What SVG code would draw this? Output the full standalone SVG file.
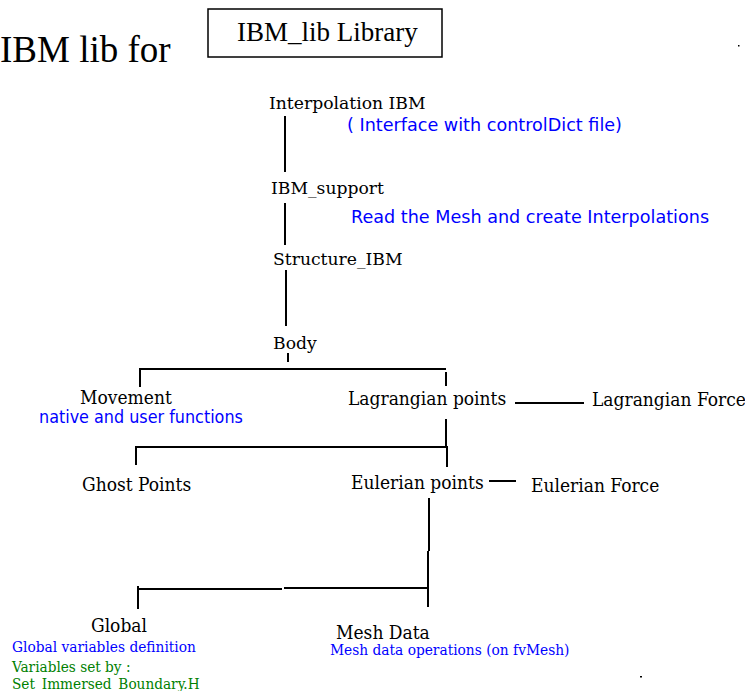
<svg xmlns="http://www.w3.org/2000/svg" width="745" height="691" viewBox="0 0 745 691">
<style>
.s{font-family:"DejaVu Serif",serif;fill:#000;font-size:17.2px}
.sc{font-family:"DejaVu Serif Condensed","DejaVu Serif",serif;fill:#000;font-size:19px}
.bs{font-family:"DejaVu Sans",sans-serif;fill:#0000ff;font-size:17.6px}
.bc{font-family:"DejaVu Sans Condensed","DejaVu Sans",sans-serif;fill:#0000ff;font-size:17.8px}
.bsc{font-family:"DejaVu Serif Condensed","DejaVu Serif",serif;fill:#0000ff;font-size:15.3px}
.gsc{font-family:"DejaVu Serif Condensed","DejaVu Serif",serif;fill:#008000;font-size:15.2px}
.ln{stroke:#000;stroke-width:2;fill:none}
</style>
<rect width="745" height="691" fill="#fff"/>
<g id="title">
<text x="0" y="62" style="font-family:'Liberation Serif',serif;font-size:37px">IBM lib for</text>
</g>
<g id="library">
<rect x="208" y="9" width="234" height="48" fill="none" stroke="#000" stroke-width="1.5"/>
<text x="237" y="41" style="font-family:'Liberation Serif',serif;font-size:27px">IBM_lib Library</text>
</g>
<g id="interpolation">
<text class="s" x="269" y="109">Interpolation IBM</text>
<text class="bs" x="347" y="131">( Interface with controlDict file)</text>
</g>
<g id="ibm_support">
<text class="s" x="271" y="194">IBM_support</text>
<text class="bs" x="351" y="223">Read the Mesh and create Interpolations</text>
</g>
<g id="structure">
<text class="s" x="273" y="265">Structure_IBM</text>
</g>
<g id="body">
<text class="s" x="273" y="349">Body</text>
</g>
<g id="movement">
<text class="sc" x="80" y="404">Movement</text>
<text class="bc" x="39" y="423">native and user functions</text>
</g>
<g id="lagrangian_points">
<text class="sc" x="348" y="405">Lagrangian points</text>
</g>
<g id="lagrangian_force">
<text class="sc" x="592" y="406">Lagrangian Force</text>
</g>
<g id="ghost_points">
<text class="sc" x="82" y="491">Ghost Points</text>
</g>
<g id="eulerian_points">
<text class="sc" x="351" y="489">Eulerian points</text>
</g>
<g id="eulerian_force">
<text class="sc" x="531" y="492">Eulerian Force</text>
</g>
<g id="global">
<text class="sc" x="91" y="632">Global</text>
<text class="bsc" x="12" y="652">Global variables definition</text>
<text class="gsc" x="12" y="672">Variables set by :</text>
<text class="gsc" x="12" y="689">Set_Immersed_Boundary.H</text>
</g>
<g id="mesh_data">
<text class="sc" x="336" y="639">Mesh Data</text>
<text class="bsc" x="330" y="655">Mesh data operations (on fvMesh)</text>
</g>
<g id="connectors" class="ln">
<path d="M285 116V172M285 203V245M286 270V326M288 353V362"/>
<path d="M140 387V369H446M446 372V386"/>
<path d="M515 403H584"/>
<path d="M446 419V446M136 465V447H448M447 447V467"/>
<path d="M489 481H516"/>
<path d="M429 498V551M428 551V607"/>
<path d="M138 609V586M138 589H282M284 588H428"/>
</g>
<rect x="738" y="45" width="1.5" height="1.5" fill="#000"/>
<rect x="640" y="676" width="2" height="1.5" fill="#000"/>
</svg>
